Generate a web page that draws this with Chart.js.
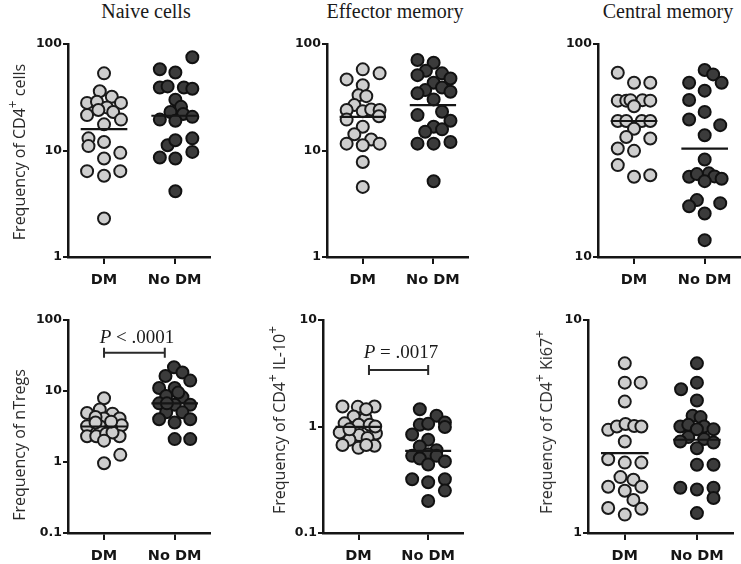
<!DOCTYPE html>
<html><head><meta charset="utf-8">
<script src="https://cdn.jsdelivr.net/npm/chart.js@4"></script>
<style>
html,body{margin:0;padding:0;background:#fff;width:741px;height:564px;overflow:hidden;position:relative}
canvas{position:absolute}
.t{position:absolute;white-space:nowrap;line-height:1;color:#1a1a1a}
.title{font-family:"Liberation Serif",serif;font-size:20px;transform:translateX(-50%)}
.ytitle{font-family:"Open Sans",sans-serif;font-size:16px;transform:translate(-50%,-50%) rotate(-90deg);color:#2a2a2a}
.ytitle sup{font-size:0.85em;line-height:0;vertical-align:0.5em}
.pval{font-family:"Liberation Serif",serif;font-size:19px;transform:translateX(-50%)}
</style></head><body>
<canvas id="c1"></canvas><canvas id="c2"></canvas><canvas id="c3"></canvas>
<canvas id="c4"></canvas><canvas id="c5"></canvas><canvas id="c6"></canvas>
<div class="t title" style="left:146px;top:1px">Naive cells</div>
<div class="t title" style="left:395px;top:1px">Effector memory</div>
<div class="t title" style="left:668px;top:1px">Central memory</div>
<div class="t ytitle" style="left:19px;top:152px">Frequency of CD4<sup>+</sup> cells</div>
<div class="t ytitle" style="left:19px;top:445px">Frequency of nTregs</div>
<div class="t ytitle" style="left:279px;top:420px">Frequency of CD4<sup>+</sup> IL-10<sup>+</sup></div>
<div class="t ytitle" style="left:546px;top:422px">Frequency of CD4<sup>+</sup> Ki67<sup>+</sup></div>
<div class="t pval" style="left:137px;top:327px"><i>P</i> &lt; .0001</div>
<div class="t pval" style="left:401px;top:342px"><i>P</i> = .0017</div>
<script>
// ---------------- DATA ----------------
const categories = ['DM', 'No DM'];

// Naive cells
const naiveDM    = [53, 36, 32, 28, 28.7, 28, 25.4, 23, 21.5, 24, 19.5, 17.6, 13, 11, 12, 8.4, 9.5, 6.4, 6.4, 5.8, 2.3];
const naiveDMJit = [0, -0.06, 0.11, -0.24, -0.1, 0.24, 0.04, 0.13, -0.24, -0.08, 0.24, 0, -0.22, -0.22, 0, 0, 0.23, -0.24, 0.23, 0, 0];
const naiveNoDM    = [75, 58, 54, 39, 40, 39, 38, 30, 25.7, 23, 22, 19.5, 20.7, 19, 11.2, 12.5, 13, 9.7, 8.6, 8.4, 4.15];
const naiveNoDMJit = [0.25, -0.21, 0.01, -0.21, -0.1, 0.13, 0.25, 0.01, 0.09, -0.06, 0.12, -0.21, 0.25, 0.01, -0.1, 0.01, 0.25, 0.25, -0.21, 0.01, 0.01];
const naiveMeans = [15.9, 21.2];
const naiveTicks = [1, 10, 100];

// Effector memory
const effDM    = [57.8, 53, 46.5, 41, 33, 32.4, 26.7, 24, 23.4, 24.3, 24, 19.5, 21, 16.7, 14.2, 12.7, 11.6, 11.2, 11.6, 7.8, 4.55];
const effDMJit = [0, 0.24, -0.23, 0, -0.06, 0.05, -0.12, -0.23, 0, 0.12, 0.24, -0.23, 0.23, 0, -0.12, 0.12, -0.23, 0, 0.24, 0, 0];
const effNoDM    = [70.7, 66.7, 56, 51, 53, 47.5, 43.3, 36.9, 39, 35.6, 34.4, 30.2, 23.1, 21.5, 19, 16.7, 15.8, 15, 11.6, 11.6, 12, 5.15];
const effNoDMJit = [-0.22, 0.01, -0.1, -0.22, 0.13, 0.25, 0.01, -0.11, 0.13, 0.25, -0.22, 0.01, 0.13, -0.22, 0.25, 0.01, 0.13, -0.11, -0.22, 0.01, 0.25, 0.01];
const effMeans = [20.7, 26.7];
const effTicks = [1, 10, 100];

// Central memory
const cenDM    = [73.3, 65.8, 65.8, 54.2, 54.2, 54.5, 54.5, 54.2, 51, 43.5, 43.5, 43.5, 43.5, 40, 36.6, 36, 32.3, 31.5, 27, 23.8, 24.2];
const cenDMJit = [-0.23, 0, 0.23, -0.23, -0.11, -0.05, 0.12, 0.23, 0, -0.23, -0.11, 0.11, 0.23, 0, -0.11, 0.23, -0.23, 0, -0.23, 0, 0.23];
const cenNoDM    = [75.5, 72, 65.8, 65.8, 60.4, 54.6, 48, 44.2, 41.6, 37.3, 28.7, 23.8, 24.5, 24.7, 23.9, 23.3, 22.7, 18.5, 17.3, 17.9, 16, 12];
const cenNoDMJit = [0, 0.12, 0.24, -0.22, 0, -0.22, 0, -0.22, 0.22, 0, 0, -0.22, -0.11, 0.06, 0.14, 0.24, 0, -0.11, -0.22, 0.22, 0, 0];
const cenMeans = [43.5, 32.3];
const cenTicks = [10, 100];

// nTregs
const tregDM    = [7.9, 5.5, 4.9, 4.8, 4.1, 4.1, 4.3, 3.2, 3.3, 3.2, 3.0, 2.3, 2.3, 2.5, 2.3, 2.6, 2.0, 1.26, 0.96, 3.6, 3.7];
const tregDMJit = [0, -0.06, -0.24, 0.12, 0.22, 0, -0.12, -0.24, 0.25, -0.06, 0.1, -0.24, -0.11, 0.03, 0.22, 0.12, 0, 0.23, 0, -0.12, 0.1];
const tregNoDM    = [21.6, 16.3, 18.2, 14, 11, 11, 8.5, 8.2, 6.4, 6.7, 6.4, 5.0, 5.0, 4.0, 4.0, 3.6, 2.1, 2.1, 9.5, 6.7];
const tregNoDMJit = [-0.01, -0.13, 0.11, 0.22, -0.22, 0, -0.12, 0.11, 0, -0.22, 0.22, -0.12, 0.11, -0.22, 0.22, 0, 0, 0.22, 0.05, -0.11];
const tregMeans = [3.16, 6.7];
const tregTicks = [0.1, 1, 10, 100];
const tregBracket = [1.0, 1.86, 34.6];

// CD4+ IL-10+
const il10DM    = [1.54, 1.53, 1.54, 1.24, 1.2, 1.07, 1.04, 1.04, 0.88, 0.86, 0.83, 0.86, 0.78, 0.75, 0.67, 0.66, 0.63, 0.67, 1.45, 0.94, 1.0];
const il10DMJit = [-0.23, -0.01, 0.23, -0.07, 0.1, -0.2, 0, 0.16, -0.27, -0.1, 0.01, 0.25, 0.13, -0.13, -0.23, 0.23, 0, 0.11, 0.11, -0.13, 0.24];
const il10NoDM    = [1.45, 1.26, 1.09, 1.04, 1.06, 0.99, 0.84, 0.75, 0.65, 0.6, 0.53, 0.55, 0.53, 0.5, 0.47, 0.44, 0.32, 0.3, 0.32, 0.25, 0.2];
const il10NoDMJit = [-0.12, 0.12, 0.24, -0.12, 0, 0.24, -0.23, 0, -0.12, 0.12, -0.23, 0, 0.12, -0.12, 0.24, 0, -0.23, 0, 0.24, 0.24, 0];
const il10Means = [0.99, 0.59];
const il10Ticks = [0.1, 1, 10];
const il10Bracket = [1.15, 2.0, 3.39];

// CD4+ Ki67+
const kiDM    = [6.26, 5.08, 5.08, 4.14, 3.05, 3.16, 3.25, 3.18, 3.16, 2.69, 2.22, 2.14, 2.14, 1.83, 1.65, 1.78, 1.65, 1.58, 1.43, 1.31, 1.3, 1.22];
const kiDMJit = [0, 0, 0.22, 0, -0.23, -0.11, 0.01, 0.13, 0.23, 0, -0.23, 0, 0.23, -0.06, -0.23, 0.12, 0.23, 0, 0.12, -0.23, 0.23, 0];
const kiNoDM    = [6.26, 5.08, 4.73, 4.19, 3.55, 3.5, 3.16, 3.22, 3.16, 3.07, 3.07, 2.82, 2.69, 2.76, 2.66, 2.5, 2.09, 2.09, 1.63, 1.6, 1.63, 1.46, 1.24];
const kiNoDMJit = [0, 0, -0.22, 0, -0.06, 0.05, -0.23, -0.12, 0.1, 0.23, 0, -0.12, -0.23, 0.1, 0.23, 0, 0, 0.23, -0.23, 0, 0.23, 0.23, 0];
const kiMeans = [2.37, 2.74];
const kiTicks = [1, 10];

// ---------------- LAYOUT / STYLE ----------------
const WY = 45, PADT = 10, PADR = 10, HX = 38;
const MEAN_HALF = 0.33;
const INK = '#151515';

const bracketPlugin = {
  id: 'bracket',
  afterDatasetsDraw(chart, args, opts) {
    if (!opts || !opts.b) return;
    const [x1, x2, yv] = opts.b;
    const xs = chart.scales.x, ys = chart.scales.y;
    const px1 = xs.getPixelForValue(x1), px2 = xs.getPixelForValue(x2), py = ys.getPixelForValue(yv);
    const ctx = chart.ctx;
    ctx.save();
    ctx.strokeStyle = '#2a2a2a';
    ctx.lineWidth = 2;
    ctx.beginPath();
    ctx.moveTo(px1, py); ctx.lineTo(px2, py);
    ctx.moveTo(px1, py - 5); ctx.lineTo(px1, py + 5);
    ctx.moveTo(px2, py - 5); ctx.lineTo(px2, py + 5);
    ctx.stroke();
    ctx.restore();
  }
};

function pts(vals, jit, center) {
  return vals.map((v, i) => ({x: center + jit[i], y: v}));
}

function makeChart(id, box, dm, dmJ, nd, ndJ, means, ticks, bracket) {
  const cv = document.getElementById(id);
  const w = WY + (box.R - box.L) + PADR;
  const h = PADT + (box.B - box.T) + HX;
  cv.width = w; cv.height = h;
  cv.style.left = (box.L - WY) + 'px';
  cv.style.top = (box.T - PADT) + 'px';
  cv.style.width = w + 'px'; cv.style.height = h + 'px';
  const gridOpts = (len) => ({drawOnChartArea: false, drawTicks: true, tickLength: len, color: INK, lineWidth: 2});
  new Chart(cv, {
    type: 'scatter',
    data: {
      datasets: [
        {label: categories[0], data: pts(dm, dmJ, 1), backgroundColor: '#cecece', borderColor: '#1a1a1a',
         borderWidth: 2, pointRadius: 6, order: 2, clip: false},
        {label: categories[1], data: pts(nd, ndJ, 2), backgroundColor: '#3b3b3b', borderColor: '#111',
         borderWidth: 2, pointRadius: 6, order: 2, clip: false},
        {label: 'mean DM', data: [{x: 1 - MEAN_HALF, y: means[0]}, {x: 1 + MEAN_HALF, y: means[0]}],
         showLine: true, borderColor: INK, borderWidth: 2.2, pointRadius: 0, order: 1, clip: false},
        {label: 'mean No DM', data: [{x: 2 - MEAN_HALF, y: means[1]}, {x: 2 + MEAN_HALF, y: means[1]}],
         showLine: true, borderColor: INK, borderWidth: 2.2, pointRadius: 0, order: 1, clip: false}
      ]
    },
    options: {
      responsive: false, animation: false, events: [],
      devicePixelRatio: 1,
      layout: {padding: {top: PADT, right: PADR, left: 0, bottom: 0}},
      plugins: {legend: {display: false}, tooltip: {enabled: false}, bracket: {b: bracket}},
      scales: {
        x: {
          type: 'linear', min: 0.49, max: 2.5,
          afterBuildTicks: s => { s.ticks = [{value: 1}, {value: 2}]; },
          afterFit: s => { s.height = HX; },
          ticks: {callback: v => categories[Math.round(v) - 1], color: INK, padding: 8,
                  maxRotation: 0, autoSkip: false,
                  font: {family: 'DejaVu Sans', weight: 'bold', size: 14.5}},
          grid: gridOpts(7),
          border: {display: true, color: INK, width: 2.5}
        },
        y: {
          type: 'logarithmic', min: ticks[0], max: ticks[ticks.length - 1],
          afterBuildTicks: s => { s.ticks = ticks.map(v => ({value: v})); },
          afterFit: s => { s.width = WY; },
          ticks: {callback: v => String(v), color: INK, padding: 1, autoSkip: false,
                  font: {family: 'DejaVu Sans', weight: 'bold', size: 12.5}},
          grid: gridOpts(5),
          border: {display: true, color: INK, width: 2.5}
        }
      }
    },
    plugins: [bracketPlugin]
  });
}

makeChart('c1', {L: 68, R: 210, T: 44, B: 257}, naiveDM, naiveDMJit, naiveNoDM, naiveNoDMJit, naiveMeans, naiveTicks, null);
makeChart('c2', {L: 327, R: 468, T: 44, B: 257}, effDM, effDMJit, effNoDM, effNoDMJit, effMeans, effTicks, null);
makeChart('c3', {L: 598, R: 740, T: 44, B: 257}, cenDM, cenDMJit, cenNoDM, cenNoDMJit, cenMeans, cenTicks, null);
makeChart('c4', {L: 68, R: 210, T: 320, B: 533}, tregDM, tregDMJit, tregNoDM, tregNoDMJit, tregMeans, tregTicks, tregBracket);
makeChart('c5', {L: 323, R: 463, T: 320, B: 533}, il10DM, il10DMJit, il10NoDM, il10NoDMJit, il10Means, il10Ticks, il10Bracket);
makeChart('c6', {L: 588, R: 733, T: 320, B: 533}, kiDM, kiDMJit, kiNoDM, kiNoDMJit, kiMeans, kiTicks, null);
</script>
</body></html>
